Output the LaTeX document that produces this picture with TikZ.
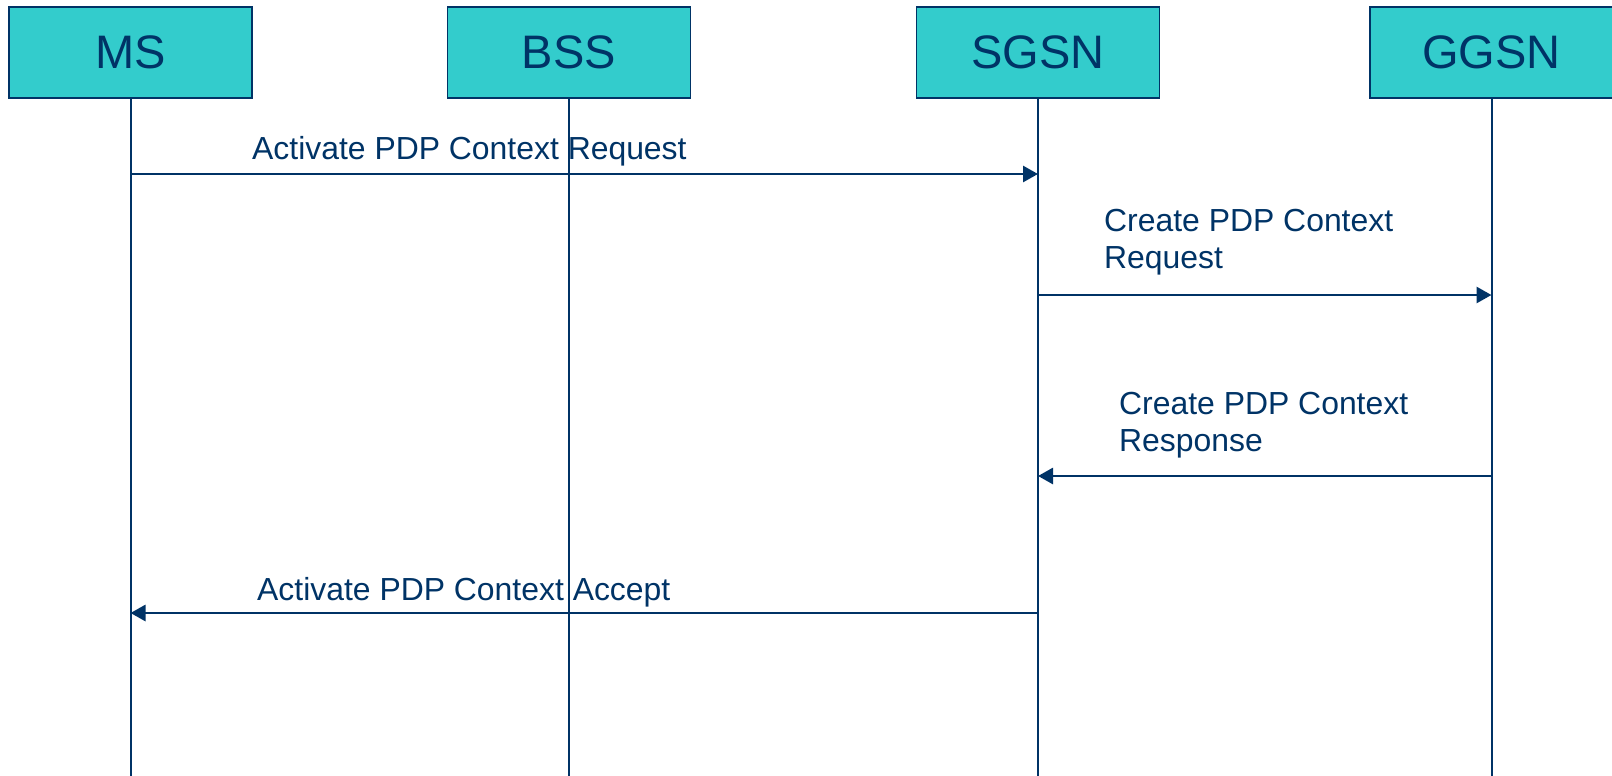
\documentclass[tikz,border=0pt]{standalone}
\usepackage{fontspec}
\setmainfont{Liberation Sans}
\usetikzlibrary{arrows.meta}

\definecolor{navy}{HTML}{003366}
\definecolor{teal}{HTML}{33CCCC}

\tikzset{
  entity/.style={draw=navy, line width=1.5pt, fill=teal, text=navy,
    minimum width=243pt, minimum height=91pt, inner sep=0pt,
    font=\fontsize{47}{56}\selectfont},
  lifeline/.style={draw=navy, line width=2pt},
  msg/.style={draw=navy, line width=2.8pt,
    -{Triangle[length=15pt,width=16pt]}},
  msglabel/.style={anchor=base west, inner sep=0pt, text=navy,
    font=\fontsize{31.9}{37}\selectfont}
}

\begin{document}
\begin{tikzpicture}[x=1pt, y=-1pt]
  \useasboundingbox (0,0) rectangle (1612,776);

  % participants
  \node[entity] (ms)   at (130.5,52.5)  {MS};
  \node[entity] (bss)  at (569,52.5)    {BSS};
  \node[entity] (sgsn) at (1038,52.5)   {SGSN};
  \node[entity] (ggsn) at (1491.5,52.5) {GGSN};

  % lifelines
  \coordinate (bottom) at (0,776);
  \foreach \p in {ms,bss,sgsn,ggsn}
    \draw[lifeline] (\p.south) -- (\p.south |- bottom);

  % message rows
  \coordinate (m1) at (0,174);
  \coordinate (m2) at (0,295);
  \coordinate (m3) at (0,476);
  \coordinate (m4) at (0,613);

  \draw[msg] (ms |- m1) -- (sgsn |- m1);
  \draw[msg] (sgsn |- m2) -- (ggsn |- m2);
  \draw[msg] (ggsn |- m3) -- (sgsn |- m3);
  \draw[msg] (sgsn |- m4) -- (ms |- m4);

  % message labels
  \node[msglabel] (l1) at (252,159) {Activate PDP Context Request};
  \node[msglabel] (l2) at (1104,231)
    {\begin{tabular}[t]{@{}l@{}}Create PDP Context\\Request\end{tabular}};
  \node[msglabel] (l3) at (1119,414)
    {\begin{tabular}[t]{@{}l@{}}Create PDP Context\\Response\end{tabular}};
  \node[msglabel] (l4) at (257,600) {Activate PDP Context Accept};
\end{tikzpicture}
\end{document}
